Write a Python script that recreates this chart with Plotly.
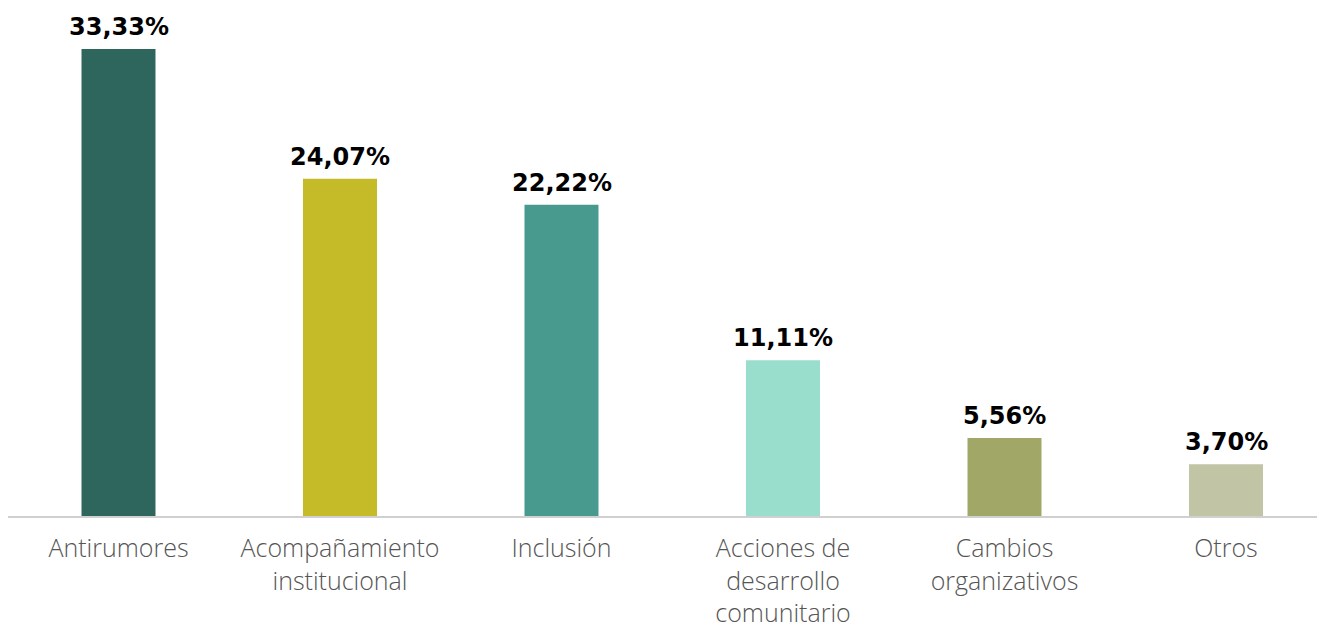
import plotly.graph_objects as go

categorias = ["Antirumores", "Acompañamiento<br>institucional", "Inclusión",
              "Acciones de<br>desarrollo<br>comunitario", "Cambios<br>organizativos", "Otros"]
porcentajes = [33.33, 24.07, 22.22, 11.11, 5.56, 3.70]
colores = ["#2E665E", "#C5BA27", "#48998E", "#99DECC", "#A0A767", "#C1C4A5"]

etiquetas = [("%.2f%%" % v).replace(".", ",") for v in porcentajes]
xs = list(range(len(categorias)))

fig = go.Figure()
fig.add_trace(go.Bar(
    x=xs,
    y=porcentajes,
    marker=dict(color=colores, line=dict(width=0)),
    width=0.334,
    cliponaxis=False,
))

# etiquetas de valor sobre cada barra
for xi, v, t in zip(xs, porcentajes, etiquetas):
    fig.add_annotation(x=xi, y=v, text=t, showarrow=False, yanchor="bottom", yshift=6,
                       font=dict(family="DejaVu Sans", size=24, color="black", weight="bold"))

# la página deja 8px de margen en el body, así que el lienzo es algo menor
fig.update_layout(
    width=1317, height=618,
    margin=dict(l=0, r=0, t=0, b=110),
    plot_bgcolor="white", paper_bgcolor="white",
    showlegend=False,
    xaxis=dict(
        tickmode="array", tickvals=xs, ticktext=categorias,
        range=[-110.5 / 221.5, -110.5 / 221.5 + 1317 / 221.5],
        showline=True, linecolor="#D0D0D0", linewidth=2,
        showgrid=False, zeroline=False, automargin=False,
        ticks="", ticklabelstandoff=9,
        tickfont=dict(family="Open Sans", size=25, color="#555555", weight=300),
    ),
    yaxis=dict(range=[0, 508 / 14.01], visible=False),
)

fig.write_html("out.html")
